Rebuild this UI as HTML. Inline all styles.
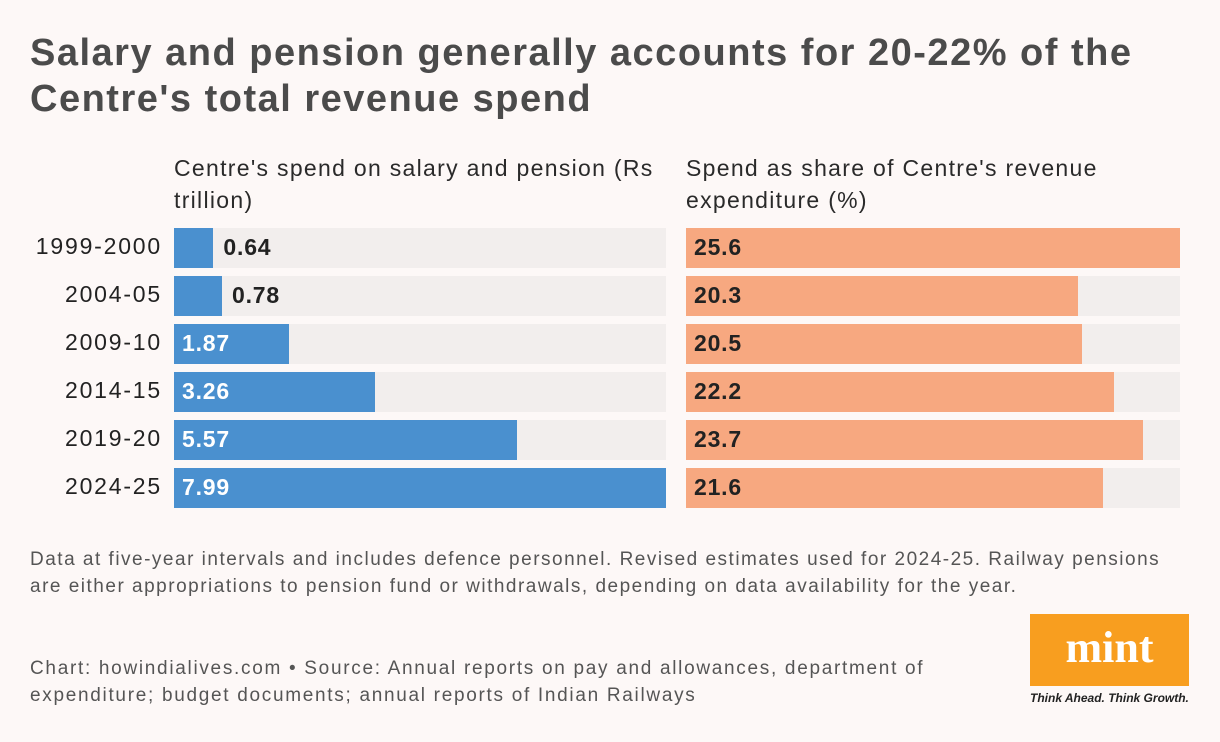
<!DOCTYPE html>
<html><head><meta charset="utf-8"><style>
body{margin:0;width:1220px;height:742px;background:#fdf8f7;font-family:"Liberation Sans",sans-serif;position:relative;overflow:hidden;color:#222}
.a{position:absolute;white-space:nowrap}
#title{left:30px;top:30px;font-size:38px;font-weight:bold;color:#4b4b4b;line-height:46px;letter-spacing:1.5px}
.sub{font-size:23px;color:#2a2a2a;line-height:32px;top:152px;letter-spacing:1.3px}
.note{left:30px;font-size:19px;color:#555;line-height:27px;letter-spacing:1.5px}
.lab{font-size:23px;color:#222;text-align:right;width:134px;left:28px;letter-spacing:1.8px}
.val{font-size:23px;font-weight:bold;letter-spacing:0.8px}
</style></head><body>
<div id="title" class="a">Salary and pension generally accounts for 20-22% of the<br>Centre's total revenue spend</div>
<div class="a sub" style="left:174px">Centre's spend on salary and pension (Rs<br>trillion)</div>
<div class="a sub" style="left:686px">Spend as share of Centre's revenue<br>expenditure (%)</div>
<div id="chart"></div>
<div class="a note" style="top:546px">Data at five-year intervals and includes defence personnel. Revised estimates used for 2024-25. Railway pensions<br>are either appropriations to pension fund or withdrawals, depending on data availability for the year.</div>
<div class="a note" style="top:655px;letter-spacing:1.7px">Chart: howindialives.com • Source: Annual reports on pay and allowances, department of<br>expenditure; budget documents; annual reports of Indian Railways</div>
<div class="a" style="left:1030px;top:614px;width:159px;height:72px;background:#f89e1f;color:#fff;font-family:'Liberation Serif',serif;font-weight:bold;font-size:44px;text-align:center;line-height:68px">mint</div>
<div class="a" style="left:1030px;top:691px;font-size:12px;font-style:italic;font-weight:bold;color:#222">Think Ahead. Think Growth.</div>
<script>
const years=["1999-2000","2004-05","2009-10","2014-15","2019-20","2024-25"];
const spend=[0.64,0.78,1.87,3.26,5.57,7.99];
const share=[25.6,20.3,20.5,22.2,23.7,21.6];
const spendLabels=["0.64","0.78","1.87","3.26","5.57","7.99"];
const shareLabels=["25.6","20.3","20.5","22.2","23.7","21.6"];
const c=document.getElementById('chart');
const y0=228,step=48,bh=40;
const L={x:174,w:492,max:Math.max(...spend)},R={x:686,w:494,max:Math.max(...share)};
function sx(v,p){return v/p.max*p.w;}
function mk(cls,st,txt){const d=document.createElement('div');d.className='a '+cls;Object.assign(d.style,st);if(txt)d.textContent=txt;c.appendChild(d);return d;}
years.forEach((yr,i)=>{
 const y=y0+i*step;
 const l=mk('lab',{top:(y+5)+'px'},yr);
 
 
 [[L,spend[i],spendLabels[i],'#4a90cf','spend'],[R,share[i],shareLabels[i],'#f7a880','share']].forEach(([p,v,t,col,n])=>{
  const bg=mk('',{left:p.x+'px',top:y+'px',width:p.w+'px',height:bh+'px',background:'#f2eeed'});
  
  
  const w=sx(v,p);
  const b=mk('',{left:p.x+'px',top:y+'px',width:w+'px',height:bh+'px',background:col});
  
  
  const inside=w>80;
  const tv=mk('val',{left:(inside?p.x+8:p.x+w+10)+'px',top:(y+6)+'px',color:(n=='spend'&&inside)?'#fff':'#222'},t);
  
  
 });
});
</script>
</body></html>
